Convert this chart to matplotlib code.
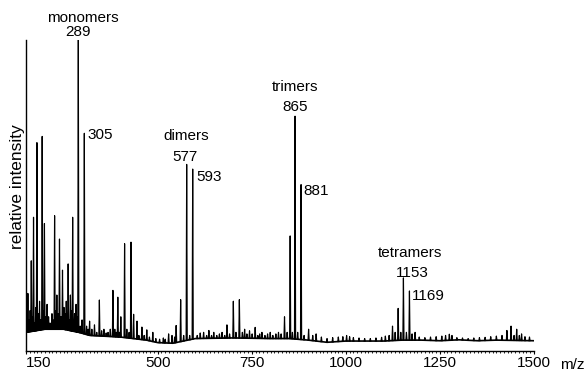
import numpy as np
import matplotlib.pyplot as plt
from matplotlib.ticker import FixedLocator, MultipleLocator

plt.rcParams['font.family'] = ['Liberation Sans', 'DejaVu Sans']

# main peaks (m/z, intensity in % of the 289 peak)
peak_mz = [155, 164, 170, 179, 193, 199, 226, 239, 247, 262, 268, 274, 283,
           289, 305, 345, 381, 394, 402, 412, 429, 436, 561, 577, 593, 684,
           701, 717, 837, 852, 865, 881, 1124, 1139, 1153, 1169]
peak_int = [18.5, 29, 43, 67, 69, 41, 43.5, 36, 26, 28, 18, 43, 15,
            100, 70, 16.4, 19.5, 17.3, 11, 34.5, 35, 11.8, 16.5, 60, 58.5, 8.4,
            16, 16.5, 11, 37, 75.5, 53.5, 8, 13.7, 23.5, 19.3]

# small peaks along the baseline
minor_mz = [158, 161, 167, 174, 176, 183, 186, 189, 196, 203, 206, 210, 214,
            219, 222, 229, 232, 235, 243, 251, 254, 257, 265, 271, 279, 286,
            294, 299, 311, 315, 319, 325, 332, 338, 351, 357, 363, 368, 374,
            386, 390, 398, 418, 424, 445, 450, 458, 464, 471, 478, 487, 495,
            505, 515, 520, 529, 538, 545, 549, 569, 585, 605, 613, 622, 630,
            636, 643, 649, 657, 664, 671, 678, 691, 708, 725, 731, 737, 744,
            751, 759, 766, 771, 777, 785, 792, 799, 806, 814, 821, 828, 844,
            858, 872, 889, 901, 912, 921, 935, 950, 965, 980, 992, 1002, 1010,
            1020, 1035, 1050, 1065, 1080, 1095, 1105, 1115, 1131, 1146, 1161,
            1176, 1184, 1195, 1210, 1225, 1240, 1255, 1265, 1275, 1282, 1295,
            1310, 1325, 1340, 1355, 1370, 1385, 1400, 1415, 1428, 1439, 1447,
            1454, 1461, 1467, 1476, 1488]
minor_int = [10, 13, 11, 9, 14, 12, 16, 10, 13, 11, 15, 11, 9,
             12, 10, 13, 18, 12, 11, 14, 12, 16, 10, 13, 12, 11,
             8, 10, 8, 7, 9.6, 7, 8.4, 6, 6.5, 7, 5.8, 6, 7,
             7, 6, 6, 7, 6, 9.6, 5, 7.7, 5, 6.8, 4.5, 6, 4,
             3.8, 4.2, 3.8, 5.5, 5, 4.5, 8.2, 5, 5, 5, 5.8, 6, 5,
             6.6, 5, 6, 5, 5.5, 6, 5, 5.5, 6, 6, 7, 5.5, 6.5,
             5.5, 7.6, 5, 5.5, 6, 5, 5.5, 6, 5, 5.5, 6, 5.5, 6,
             6, 6, 5, 7, 5, 5.5, 4.5, 4, 4.3, 4.5, 4.6, 5, 4.6,
             4.3, 4.2, 4, 4, 4.2, 4.4, 4.8, 5, 6, 6, 6,
             5.5, 6, 4.5, 4.3, 4.5, 4.6, 4.8, 5, 5.4, 5, 4.3,
             4.2, 4, 4.2, 4.3, 4.4, 4.6, 4.8, 5, 6.6, 8, 5,
             7, 5, 5.5, 4.6, 4.5]

# baseline level
base_mz = [150, 200, 250, 290, 320, 400, 470, 500, 540, 560, 600, 700, 800,
           850, 900, 950, 1000, 1100, 1150, 1200, 1250, 1300, 1350, 1400, 1500]
base_int = [6, 7, 7, 6, 5, 4.5, 3.5, 2.7, 2.5, 3, 4, 4.2, 4,
            4, 3.5, 2.8, 3.2, 3.2, 3.5, 3.5, 3.3, 3.6, 3.3, 3.5, 3.3]

tick_pos = [150, 500, 750, 1000, 1250, 1500]
tick_text = ['150', '500', '750', '1000', '1250', '1500']

fig = plt.figure(figsize=(5.85, 3.73), dpi=100)
ax = fig.add_axes([26 / 585, 22 / 373, 508 / 585, 311 / 373])

# baseline (a bit thick to look like the noisy band)
ax.plot(base_mz, base_int, color='black', lw=1.2)

# peaks as thin spikes standing on the baseline
mz = np.array(peak_mz + minor_mz, dtype=float)
h = np.array(peak_int + minor_int, dtype=float)
foot = np.interp(mz, base_mz, base_int)
hw = 1.5
gap = np.full_like(mz, np.nan)
xs = np.column_stack([mz - hw, mz, mz + hw, gap]).ravel()
ys = np.column_stack([foot, h, foot, gap]).ravel()
ax.plot(xs, ys, color='black', lw=0.85)

ax.set_xlim(150, 1500)
ax.set_ylim(0, 100)

ax.spines['top'].set_visible(False)
ax.spines['right'].set_visible(False)
ax.spines['left'].set_linewidth(1.0)
ax.spines['bottom'].set_linewidth(1.0)
ax.set_yticks([])
ax.xaxis.set_major_locator(FixedLocator(tick_pos))
ax.xaxis.set_minor_locator(MultipleLocator(10))
ax.set_xticklabels(tick_text, fontsize=11)
ax.tick_params(axis='x', which='major', direction='out', length=2.5, width=0.8, pad=1)
ax.tick_params(axis='x', which='minor', direction='out', length=1.5, width=0.6)
ax.get_xticklabels()[0].set_ha('left')

# peak annotations
notes = [("monomers", 300, 107, 'center'), ("289", 289, 102.5, 'center'),
         ("305", 312, 69.5, 'left'), ("dimers", 577, 69, 'center'),
         ("577", 572, 62.5, 'center'), ("593", 604, 56, 'left'),
         ("trimers", 864, 84.8, 'center'), ("865", 866, 78.4, 'center'),
         ("881", 886, 51.3, 'left'), ("tetramers", 1170, 31.6, 'center'),
         ("1153", 1176, 25.2, 'center'), ("1169", 1175, 17.6, 'left')]
for txt, x, y, ha in notes:
    ax.text(x, y, txt, ha=ha, va='center', fontsize=11, clip_on=False)

fig.text(18 / 585, 1 - 187 / 373, 'relative intensity', rotation=90,
         ha='center', va='center', fontsize=12.5)
fig.text(560 / 585, 4 / 373, 'm/z', ha='left', va='baseline', fontsize=11)

plt.savefig('out.png', dpi=100)
